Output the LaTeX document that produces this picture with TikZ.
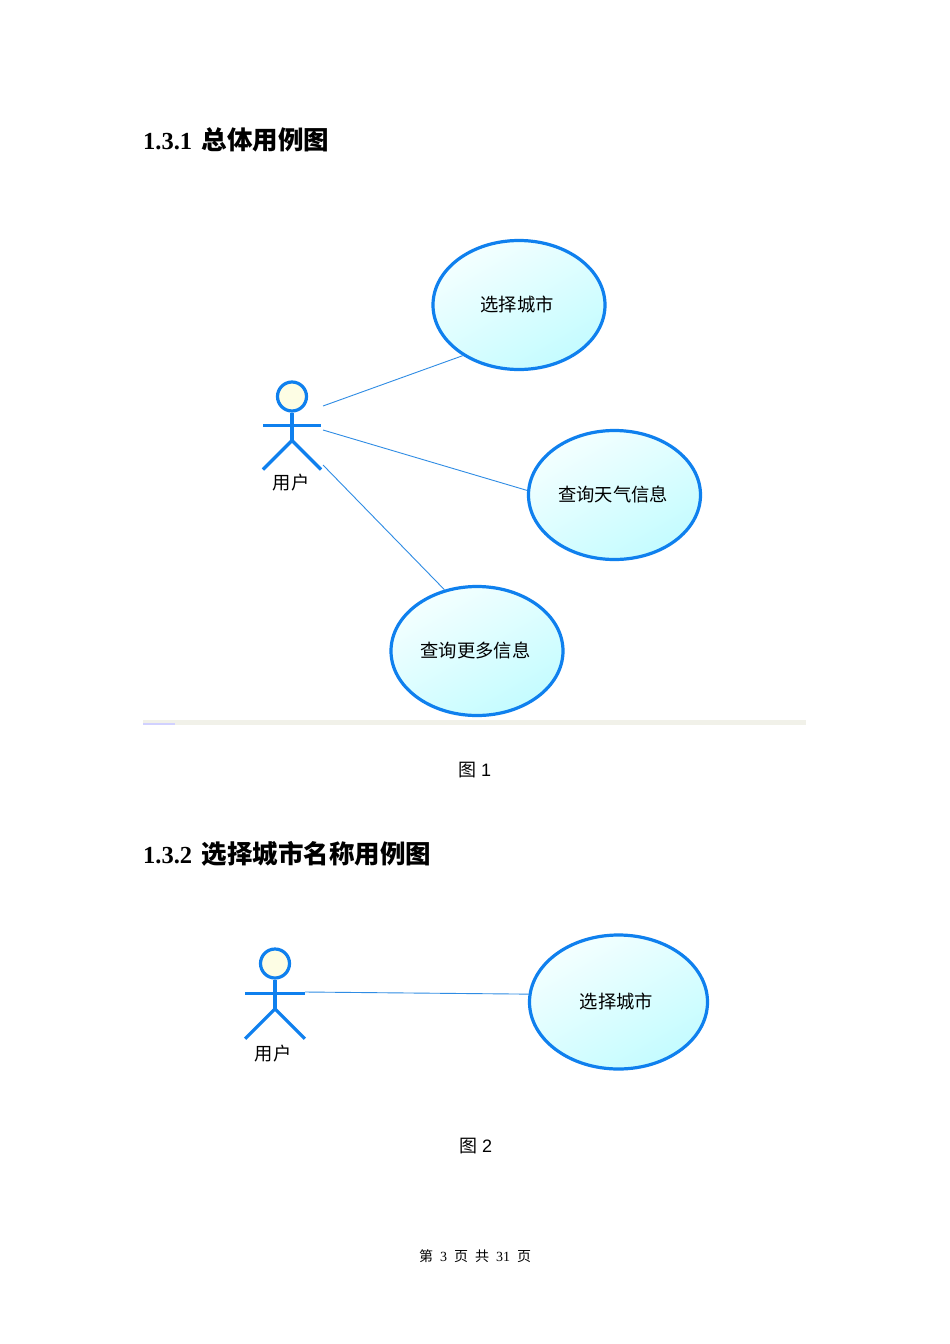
\documentclass[tikz,border=0pt]{standalone}
\usepackage{fontspec}
\usepackage{tikz}
\usetikzlibrary{positioning}
\usetikzlibrary{shapes.geometric}
\newfontfamily\cjk{Noto Sans CJK SC}
\newfontfamily\serifnum{Liberation Serif}
\newfontfamily\sansnum{Liberation Sans}
\definecolor{umlblue}{HTML}{0F80EE}
\definecolor{linkblue}{HTML}{2F8CE4}
\definecolor{ucpale}{HTML}{F4FFFF}
\definecolor{ucdeep}{HTML}{C4FCFF}
\definecolor{headpale}{HTML}{FDFDE4}
\definecolor{barcolor}{HTML}{F1F1E9}
\tikzset{
  usecase/.style={ellipse, draw=umlblue, line width=3.2pt, minimum width=172pt, minimum height=129pt,
    inner sep=0pt, top color=ucpale, bottom color=ucdeep, shading angle=30, font=\cjk\fontsize{18.3}{18}\selectfont},
  link/.style={draw=linkblue, line width=0.9pt},
  limb/.style={draw=umlblue, line width=3.2pt},
  heading/.style={anchor=west, inner sep=0pt, font=\bfseries\fontsize{25.5}{25}\selectfont},
  caption/.style={inner sep=0pt, font=\cjk\fontsize{18}{18}\selectfont},
  pics/useractor/.style={code={
      \node(head) [circle, draw=umlblue, line width=3.2pt, fill=headpale, minimum size=29pt, inner sep=0pt] at (0,0) {};
      \coordinate(hip) at (0,44);
      \coordinate(arml) at (-29,29);
      \coordinate(armr) at (29,29);
      \coordinate(legl) at (-29,73);
      \coordinate(legr) at (29,73);
      \draw[limb] (head) -- (hip);
      \draw[limb] (arml) -- (armr);
      \draw[limb] (legl) -- (hip) -- (legr);
  }}
}
\begin{document}
\begin{tikzpicture}[x=1pt, y=-1pt]
      \useasboundingbox[fill=white] (0,0) rectangle (950,1344);

      \node(title1) [heading] at (143,140) {{\serifnum\fontsize{24.5}{25}\selectfont 1.3.1} {\cjk 总体用例图}};
      \node(title2) [heading] at (143,854) {{\serifnum\fontsize{24.5}{25}\selectfont 1.3.2} {\cjk 选择城市名称用例图}};

      \node(bar) [fill=barcolor, minimum width=663pt, minimum height=5pt, inner sep=0pt] at (474.5,722.5) {};
      \node(barmark) [fill=blue!18, minimum width=32pt, minimum height=2pt, inner sep=0pt] at (159,723.5) {};

      \pic(a) at (292,396.5) {useractor};
      \node(auser) [font=\cjk\fontsize{18.3}{18}\selectfont, inner sep=0pt] at (291,482.5) {用户};
      \node(city) [usecase, text depth=3pt] at (519,305) {\hspace{-4pt}选择城市};
      \node(weather) [usecase, text depth=3pt] at (614.5,495) {\hspace{-3pt}查询天气信息};
      \node(more) [usecase, text depth=3pt] at (477,651) {\hspace{-3pt}查询更多信息};
      \coordinate(a1) at (323,406);
      \coordinate(a2) at (323,430);
      \coordinate(a3) at (323,465);
      \draw[link] (a1) -- (city.222);
      \draw[link] (a2) -- (weather.177);
      \draw[link] (a3) -- (more.118);
      \node(cap1) [caption] at (475,770) {图 {\sansnum 1}};

      \pic(b) [scale=1.03] at (275,963.5) {useractor};
      \node(buser) [font=\cjk\fontsize{18.3}{18}\selectfont, inner sep=0pt] at (273,1053.5) {用户};
      \node(city2) [usecase, text depth=3pt, minimum width=178pt, minimum height=134pt] at (618.5,1002) {\hspace{-4pt}选择城市};
      \coordinate(b1) at (305,992);
      \draw[link] (b1) -- (city2.175);
      \node(cap2) [caption] at (476,1146) {图 {\sansnum 2}};

      \node(foot) [inner sep=0pt, font=\fontsize{14}{14}\selectfont] at (475,1256) {\cjk 第\hspace{7pt}{\serifnum 3}\hspace{7pt}页\hspace{7pt}共\hspace{7pt}{\serifnum 31}\hspace{7pt}页};
    \end{tikzpicture}
\end{document}
